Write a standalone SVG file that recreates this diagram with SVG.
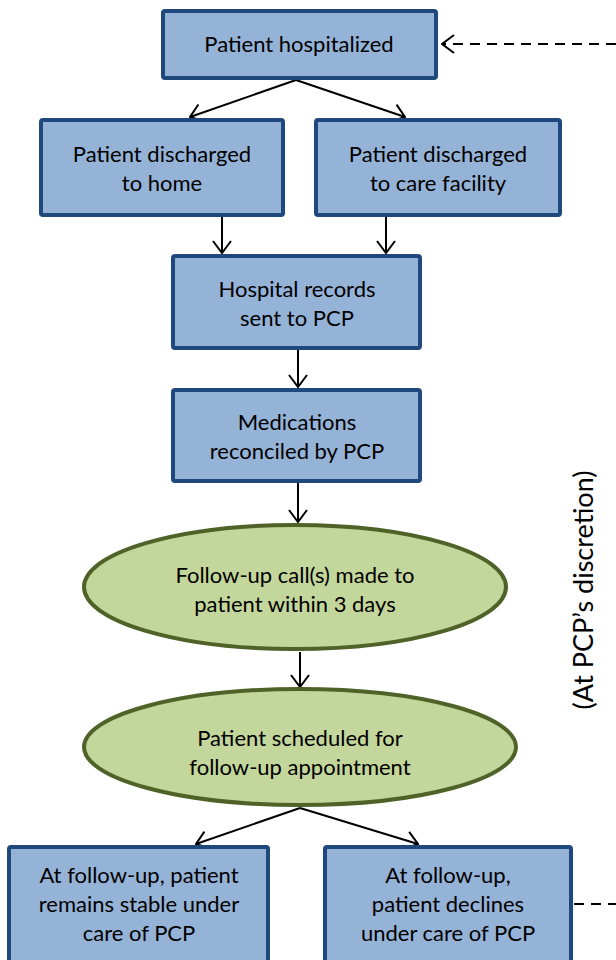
<svg xmlns="http://www.w3.org/2000/svg" width="616" height="960" viewBox="0 0 616 960">
<defs>
<marker id="arr" viewBox="0 0 14 20" refX="13" refY="10" markerWidth="14" markerHeight="20" markerUnits="userSpaceOnUse" orient="auto">
<path d="M1,1 L13,10 L1,19" fill="none" stroke="#000" stroke-width="2"/>
</marker>
</defs>
<style>
.box{fill:#95B3D7;stroke:#1F497D;stroke-width:4}
.ell{fill:#C3D69B;stroke:#4F6228;stroke-width:4}
.t{font-family:Lato,"Open Sans","Liberation Sans",sans-serif;font-size:22px;fill:#000;text-anchor:middle}
.c{fill:none;stroke:#000;stroke-width:2;marker-end:url(#arr)}
.d{fill:none;stroke:#000;stroke-width:2;stroke-dasharray:10,7}
</style>
<rect width="616" height="960" fill="#fff"/>
<g id="connectors">
<line class="c" x1="296" y1="80" x2="190" y2="117"/>
<line class="c" x1="296" y1="80" x2="405" y2="117"/>
<line class="c" x1="222" y1="217" x2="222" y2="253"/>
<line class="c" x1="386" y1="217" x2="386" y2="253"/>
<line class="c" x1="298" y1="350" x2="298" y2="387"/>
<line class="c" x1="298" y1="483" x2="298" y2="522"/>
<line class="c" x1="300" y1="652" x2="300" y2="687"/>
<line class="c" x1="300" y1="808" x2="196" y2="844"/>
<line class="c" x1="300" y1="808" x2="418" y2="844"/>
<line class="d" x1="616" y1="44" x2="442" y2="44" marker-end="url(#arr)"/>
<line class="d" x1="574" y1="904" x2="616" y2="904"/>
</g>
<g id="n-hospitalized">
<rect class="box" x="163" y="11" width="273" height="67" rx="2"/>
<text class="t" x="299" y="52">Patient hospitalized</text>
</g>
<g id="n-home">
<rect class="box" x="41" y="120" width="242" height="95" rx="2"/>
<text class="t" x="162" y="162">Patient discharged</text>
<text class="t" x="162" y="191">to home</text>
</g>
<g id="n-facility">
<rect class="box" x="316" y="120" width="244" height="95" rx="2"/>
<text class="t" x="438" y="162">Patient discharged</text>
<text class="t" x="438" y="191">to care facility</text>
</g>
<g id="n-records">
<rect class="box" x="173" y="256" width="247" height="92" rx="2"/>
<text class="t" x="297" y="297">Hospital records</text>
<text class="t" x="297" y="326">sent to PCP</text>
</g>
<g id="n-meds">
<rect class="box" x="173" y="390" width="247" height="91" rx="2"/>
<text class="t" x="297" y="430">Medications</text>
<text class="t" x="297" y="459">reconciled by PCP</text>
</g>
<g id="n-call">
<ellipse class="ell" cx="295" cy="587" rx="211" ry="62"/>
<text class="t" x="295" y="583">Follow-up call(s) made to</text>
<text class="t" x="295" y="612">patient within 3 days</text>
</g>
<g id="n-scheduled">
<ellipse class="ell" cx="300" cy="747" rx="216" ry="58"/>
<text class="t" x="300" y="746">Patient scheduled for</text>
<text class="t" x="300" y="775">follow-up appointment</text>
</g>
<g id="n-stable">
<rect class="box" x="9" y="847" width="259" height="120" rx="2"/>
<text class="t" x="139" y="883">At follow-up, patient</text>
<text class="t" x="139" y="912">remains stable under</text>
<text class="t" x="139" y="941">care of PCP</text>
</g>
<g id="n-declines">
<rect class="box" x="325" y="847" width="246" height="120" rx="2"/>
<text class="t" x="448" y="883">At follow-up,</text>
<text class="t" x="448" y="912">patient declines</text>
<text class="t" x="448" y="941">under care of PCP</text>
</g>
<g id="label-discretion">
<text class="t" x="0" y="0" transform="translate(593,590) rotate(-90)" style="font-size:27px">(At PCP’s discretion)</text>
</g>
</svg>
